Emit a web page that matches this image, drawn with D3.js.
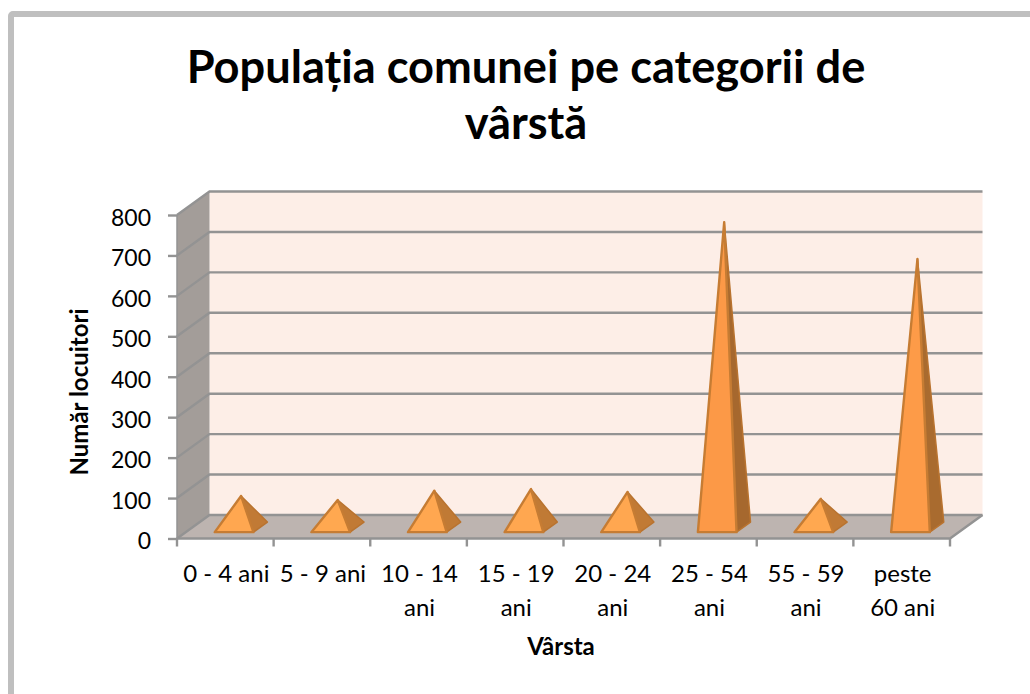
<!DOCTYPE html>
<html><head><meta charset="utf-8">
<style>html,body{margin:0;padding:0;background:#fff}svg{display:block}text{font-family:Lato,"Open Sans",sans-serif;fill:#000}</style>
<script src="https://cdn.jsdelivr.net/npm/d3@7/dist/d3.min.js"></script>
</head><body><svg id="c" width="1030" height="694"></svg>
<script>
const categories = ["0 - 4 ani","5 - 9 ani","10 - 14 ani","15 - 19 ani","20 - 24 ani","25 - 54 ani","55 - 59 ani","peste 60 ani"];
const labelLines = [["0 - 4 ani"],["5 - 9 ani"],["10 - 14","ani"],["15 - 19","ani"],["20 - 24","ani"],["25 - 54","ani"],["55 - 59","ani"],["peste","60 ani"]];
const values = [77, 67, 90, 94, 87, 754, 70, 663];
const yTicks = [0,100,200,300,400,500,600,700,800];
const titleLines = ["Populația comunei pe categorii de","vârstă"];

const svg = d3.select("#c");
const x = d3.scaleBand().domain(categories).range([177,950]);
const y = d3.scaleLinear().domain([0,800]).range([538.5,215]);
const dx = 32.5, dy = -23.5;
const P = (px,py,f) => [px+dx*f, py+dy*f];
const line = pts => "M"+pts.map(p=>p.join(",")).join("L")+"Z";
const grey = "#939393";

// frame
svg.append("rect").attr("x",11).attr("y",14).attr("width",1040).attr("height",720)
  .attr("fill","#fff").attr("stroke","#bfbfbf").attr("stroke-width",6).attr("rx",2);

const x0=x.range()[0], x1=x.range()[1], y0=y(0), yT=y(800);
svg.append("path").attr("d",line([P(x0,y0,1),P(x1,y0,1),P(x1,yT,1),P(x0,yT,1)])).attr("fill","#fdeee7");
svg.append("path").attr("d",line([[x0,y0],P(x0,y0,1),P(x0,yT,1),[x0,yT]])).attr("fill","#a39d99");
svg.append("path").attr("d",line([[x0,y0],[x1,y0],P(x1,y0,1),P(x0,y0,1)])).attr("fill","#bdb4b0");
yTicks.forEach(t=>{
  const a=[x0,y(t)], b=P(x0,y(t),1), c=P(x1,y(t),1);
  svg.append("polyline").attr("points",[a,b,c].map(p=>p.join(",")).join(" "))
    .attr("fill","none").attr("stroke",grey).attr("stroke-width",2.4);
});
svg.append("polyline").attr("points",[[x0,y0],[x1,y0],P(x1,y0,1)].map(p=>p.join(",")).join(" "))
  .attr("fill","none").attr("stroke",grey).attr("stroke-width",2.4);
svg.append("line").attr("x1",x0).attr("x2",x0).attr("y1",y0).attr("y2",yT).attr("stroke",grey).attr("stroke-width",1.5);

const yAxis = svg.append("g").attr("transform",`translate(${x0},0)`)
  .call(d3.axisLeft(y).tickValues(yTicks).tickSize(9).tickPadding(17));
yAxis.select(".domain").remove();
yAxis.selectAll("line").attr("stroke",grey).attr("stroke-width",2.4);
yAxis.selectAll("text").attr("font-size",23).attr("dy","0.45em").style("font-family","Lato");

const xTicks = categories.map(c=>x(c)).concat([x1]);
svg.selectAll(".xt").data(xTicks).join("line").attr("x1",d=>d).attr("x2",d=>d)
  .attr("y1",y0).attr("y2",y0+8).attr("stroke",grey).attr("stroke-width",2.4);
categories.forEach((c,i)=>{
  const t=svg.append("text").attr("text-anchor","middle").attr("font-size",24);
  labelLines[i].forEach((l,j)=>t.append("tspan").attr("x",x(c)+x.bandwidth()/2+1).attr("y",582+j*33.5).text(l));
});

const halfW = x.bandwidth()*0.2, fA=0.27, fB=0.7;
const sideCol = d3.scaleLinear().domain([0,800]).range(["#c47c36","#a4672d"]);
const frontCol = d3.scaleLinear().domain([0,800]).range(["#ffa951","#fc9846"]);
categories.forEach((c,i)=>{
  const cx=x(c)+x.bandwidth()/2;
  const a=P(cx-halfW,y0,fA), b=P(cx+halfW,y0,fA), r=P(cx+halfW,y0,fB);
  const apex=P(cx,y(values[i]),(fA+fB)/2);
  svg.append("path").attr("d",line([b,r,apex])).attr("fill",sideCol(values[i])).attr("stroke","#b9732f").attr("stroke-width",1.5).attr("stroke-linejoin","round");
  svg.append("path").attr("d",line([a,b,apex])).attr("fill",frontCol(values[i])).attr("stroke","#c67c33").attr("stroke-width",2.4).attr("stroke-linejoin","round");
});

titleLines.forEach((l,j)=>svg.append("text").attr("x",526).attr("y",83+j*56).attr("text-anchor","middle")
  .attr("font-size",45.2).attr("font-weight",700).text(l));
svg.append("text").attr("x",561).attr("y",655).attr("text-anchor","middle").attr("font-size",24).attr("font-weight",700).text("Vârsta");
svg.append("text").attr("transform","translate(88,392) rotate(-90)").attr("text-anchor","middle").attr("font-size",24).attr("font-weight",700).text("Număr locuitori");
</script></body></html>
